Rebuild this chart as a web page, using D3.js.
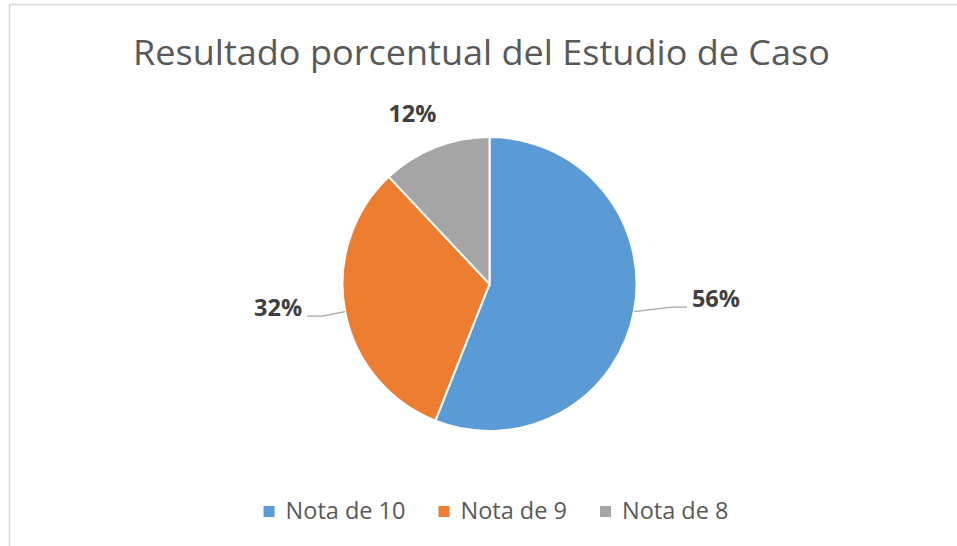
<!DOCTYPE html>
<html>
<head>
<meta charset="utf-8">
<style>
body { margin: 0; background: #fff; }
svg { display: block; }
.title { font-family: "Open Sans", sans-serif; fill: #595959; }
.label { font-family: "Open Sans", sans-serif; font-weight: bold; fill: #404040; }
.legend text { font-family: "Open Sans", sans-serif; fill: #595959; }
.leader { fill: none; stroke: #a6a6a6; stroke-width: 1.3px; }
</style>
</head>
<body>
<svg width="957" height="546"></svg>

<script src="https://d3js.org/d3.v7.min.js"></script>
<script>

    // data
    var titleText = "Resultado porcentual del Estudio de Caso";
    var categories = ["Nota de 10", "Nota de 9", "Nota de 8"];
    var values = [56, 32, 12];
    var colors = ["#5B9BD5", "#ED7D31", "#A5A5A5"];

    // label placement relative to the slice edge point (layout only)
    var labelLayout = [
        {dx: 58, dy: -4.5, anchor: "start", leader: true},
        {dx: -43, dy: 4.5, anchor: "end", leader: true},
        {dx: -23, dy: -25, anchor: "middle", leader: false}
    ];

    var svg = d3.select("svg"),
        cx = 489.5, cy = 284, radius = 147;

    // chart border (cropped at right / bottom like the reference)
    svg.append("rect")
        .attr("x", 9.5).attr("y", 4.5)
        .attr("width", 1000).attr("height", 600)
        .attr("fill", "none")
        .attr("stroke", "#d9d9d9")
        .attr("stroke-width", 1.5);

    // title
    svg.append("text")
        .attr("class", "title")
        .attr("x", 481.5).attr("y", 65)
        .attr("text-anchor", "middle")
        .style("font-size", "35px")
        .attr("textLength", 697)
        .attr("lengthAdjust", "spacingAndGlyphs")
        .text(titleText);

    var data = categories.map(function(c, i) { return {name: c, value: values[i], color: colors[i]}; });

    var pie = d3.pie()
        .sort(null)
        .value(function(d) { return d.value; });

    var arc = d3.arc().innerRadius(0).outerRadius(radius);

    var g = svg.append("g")
        .attr("transform", "translate(" + cx + "," + cy + ")");

    var arcs = pie(data);

    g.selectAll("path.slice")
        .data(arcs)
        .enter().append("path")
        .attr("class", "slice")
        .attr("d", arc)
        .attr("fill", function(d) { return d.data.color; })
        .attr("stroke", "#fff")
        .attr("stroke-width", 2);

    var total = d3.sum(values);
    var fmt = function(v) { return Math.round(v / total * 100) + "%"; };

    function edgePoint(d) {
        var a = (d.startAngle + d.endAngle) / 2;
        return [radius * Math.sin(a), -radius * Math.cos(a)];
    }

    arcs.forEach(function(d, i) {
        var lay = labelLayout[i],
            e = edgePoint(d),
            lx = e[0] + lay.dx,
            ly = e[1] + lay.dy;

        if (lay.leader) {
            var side = lay.anchor === "start" ? 1 : -1;
            var end = lx - side * 5,
                elbow = lx - side * 20;
            g.append("path")
                .attr("class", "leader")
                .attr("d", d3.line()([[e[0], e[1]], [elbow, ly], [end, ly]]));
        }

        g.append("text")
            .attr("class", "label")
            .attr("x", lx).attr("y", ly)
            .attr("text-anchor", lay.anchor)
            .style("font-size", "23.5px")
            .text(fmt(d.data.value));
    });

    // legend
    var legend = svg.append("g").attr("class", "legend");
    var items = legend.selectAll("g")
        .data(data)
        .enter().append("g");

    items.append("rect")
        .attr("width", 11).attr("height", 11)
        .attr("y", 506)
        .attr("fill", function(d) { return d.color; });

    items.append("text")
        .attr("x", 22).attr("y", 519)
        .style("font-size", "23.5px")
        .text(function(d) { return d.name; });

    var xpos = 0, gap = 33;
    items.each(function() {
        var w = d3.select(this).select("text").node().getComputedTextLength();
        d3.select(this).attr("transform", "translate(" + xpos + ",0)");
        xpos += 22 + w + gap;
    });
    var legendWidth = xpos - gap;
    legend.attr("transform", "translate(" + (496 - legendWidth / 2) + ",0)");

</script>
</body>
</html>
